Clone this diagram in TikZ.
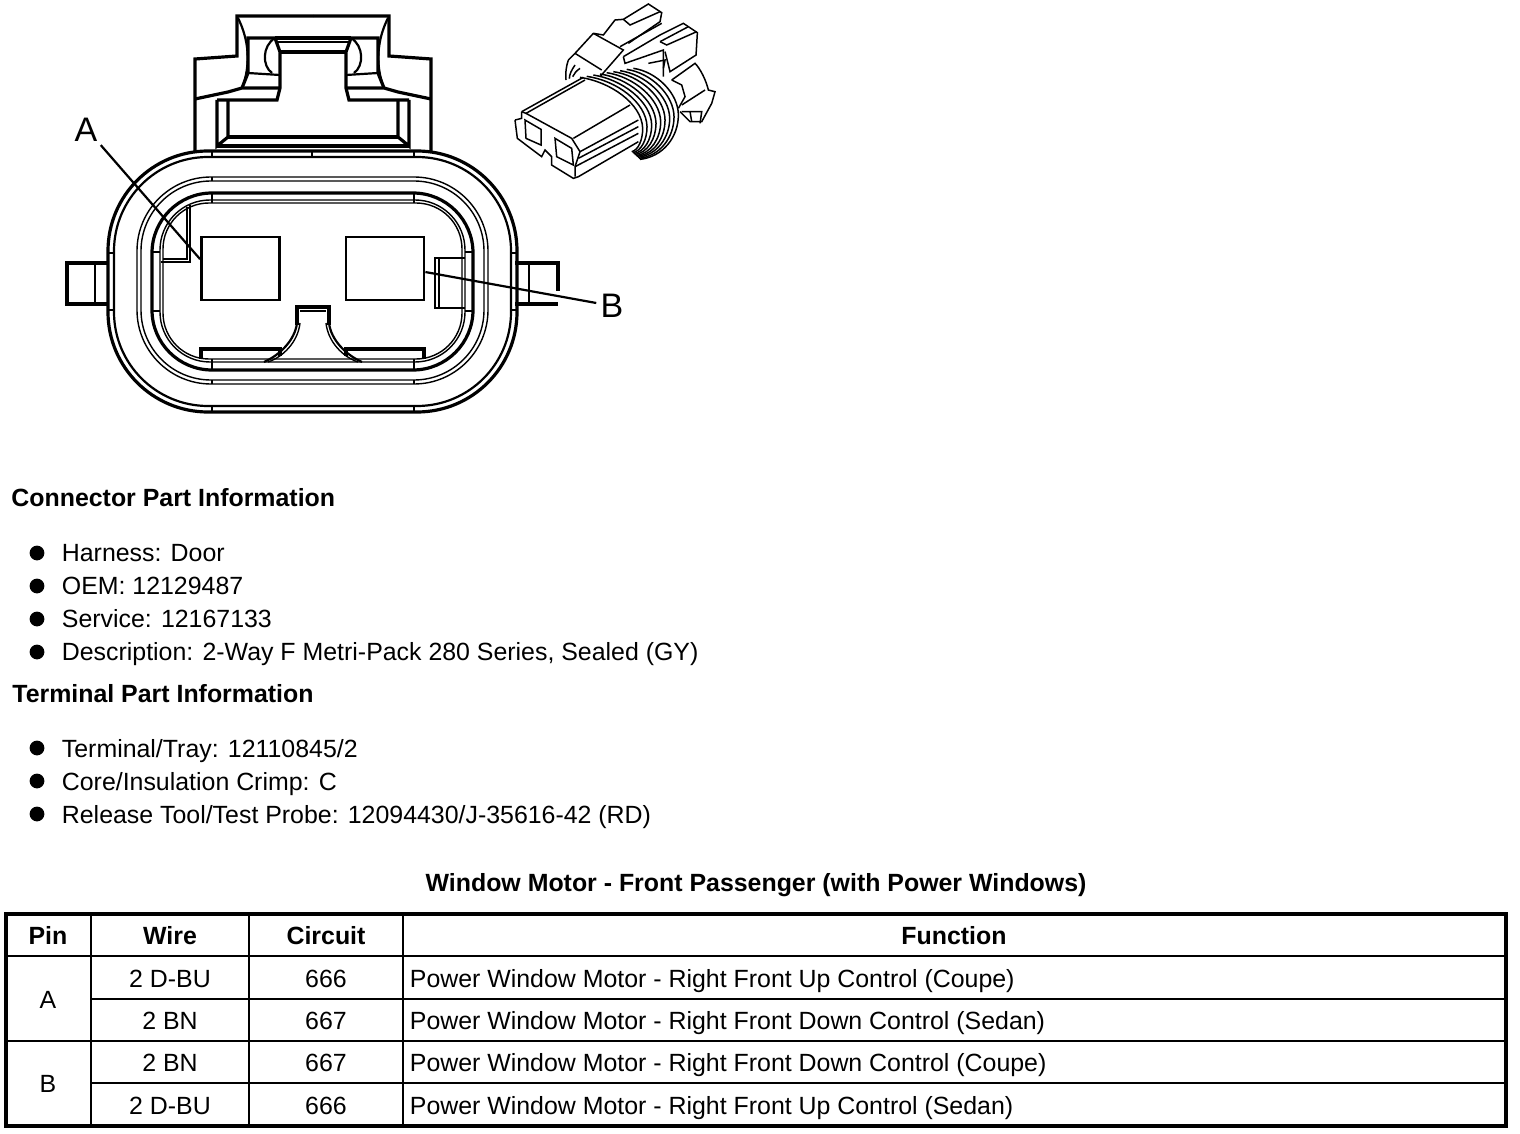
\documentclass[tikz,border=0pt]{standalone}
\usepackage{fontspec}
\setmainfont{Liberation Sans}

\tikzset{
    heavy line/.style={line width=1.6pt},
    mid line/.style={line width=1.1pt},
    thin line/.style={line width=0.7pt},
    body text/.style={anchor=base west, inner sep=0pt, font=\fontsize{12.45}{14}\selectfont},
    head text/.style={anchor=base west, inner sep=0pt, font=\fontsize{12.45}{14}\selectfont\bfseries},
    cell text/.style={anchor=base, inner sep=0pt, font=\fontsize{12.45}{14}\selectfont},
    cell head/.style={anchor=base, inner sep=0pt, font=\fontsize{12.45}{14}\selectfont\bfseries},
    list dot/.style={circle, fill=black, inner sep=0pt, minimum size=7.4pt},
    pin box/.style={rectangle, draw, line width=1.4pt, inner sep=0pt, minimum width=39pt, minimum height=31.5pt},
    call label/.style={inner sep=0pt, font=\fontsize{17}{20}\selectfont}
}

\begin{document}
\begin{tikzpicture}[x=0.5pt,y=-0.5pt,line cap=butt,line join=miter]
    \useasboundingbox (0,0) rectangle (1520,1134);

    % housing outlines
    \draw[heavy line, rounded corners=50pt] (108,151) rectangle (517,412);
    \draw[mid line, rounded corners=47pt] (114,157) rectangle (511,406);
    \draw[thin line, rounded corners=37pt] (137,177) rectangle (488,384);
    \draw[thin line, rounded corners=35pt] (141,181) rectangle (484,380);
    \draw[heavy line, rounded corners=30pt] (152,193) rectangle (473,370);
    \draw[thin line, rounded corners=25pt] (160,200) rectangle (465,362);
    \draw[thin line, rounded corners=23pt] (163,203) rectangle (462,359);

    % ticks across the outlines
    \draw[mid line] (108,253) -- (114,253) (108,310) -- (114,310) (511,253) -- (517,253) (511,310) -- (517,310);
    \draw[mid line] (152,252) -- (160,252) (152,311) -- (160,311) (465,252) -- (473,252) (465,311) -- (473,311);
    \draw[mid line] (212,151) -- (212,157) (312,151) -- (312,157) (414,151) -- (414,157);
    \draw[mid line] (212,177) -- (212,181) (212,193) -- (212,203) (414,193) -- (414,203) (212,359) -- (212,370) (414,359) -- (414,370);
    \draw[mid line] (212,380) -- (212,384) (414,380) -- (414,384) (212,406) -- (212,412) (414,406) -- (414,412);

    % side lugs
    \draw[heavy line] (108,263) -- (67,263) -- (67,304) -- (108,304);
    \draw[mid line] (95,263) -- (95,304);
    \draw[heavy line] (515,263) -- (558,263) -- (558,291);
    \draw[heavy line] (515,304) -- (558,304);
    \draw[mid line] (529,263) -- (529,304);

    % top latch, left half and its mirror
    \draw[heavy line] (313,16) -- (237,16) -- (237,56) -- (195,59) -- (195,151);
    \draw[heavy line] (195,99) -- (228,92) -- (242,88) -- (280,88);
    \draw[mid line] (238,18) .. controls (249,40) and (251,65) .. (242,88);
    \draw[heavy line] (217,100) -- (277,100) -- (280,88) -- (280,52) -- (275,38) -- (248,38) -- (248,73) -- (242,88);
    \draw[mid line] (248,73) -- (280,75);
    \draw[mid line] (275,38) .. controls (262,46) and (262,66) .. (272,73);
    \draw[heavy line] (275,38) -- (313,38) (280,52) -- (313,52);
    \draw[thin line] (277,42) -- (313,42);
    \draw[heavy line] (217,100) -- (217,146) -- (228,137) -- (228,100);
    \draw[heavy line] (228,137) -- (313,137);
    \draw[heavy line] (217,146) -- (313,146);
    \begin{scope}[shift={(626,0)},xscale=-1]
        \draw[heavy line] (313,16) -- (237,16) -- (237,56) -- (195,59) -- (195,151);
        \draw[heavy line] (195,99) -- (228,92) -- (242,88) -- (280,88);
        \draw[mid line] (238,18) .. controls (249,40) and (251,65) .. (242,88);
        \draw[heavy line] (217,100) -- (277,100) -- (280,88) -- (280,52) -- (275,38) -- (248,38) -- (248,73) -- (242,88);
        \draw[mid line] (248,73) -- (280,75);
        \draw[mid line] (275,38) .. controls (262,46) and (262,66) .. (272,73);
        \draw[heavy line] (275,38) -- (313,38) (280,52) -- (313,52);
        \draw[thin line] (277,42) -- (313,42);
        \draw[heavy line] (217,100) -- (217,146) -- (228,137) -- (228,100);
        \draw[heavy line] (228,137) -- (313,137);
        \draw[heavy line] (217,146) -- (313,146);
    \end{scope}

    % inner keys
    \draw[thin line] (187,207) -- (187,259) -- (163,259);
    \draw[thin line] (190,205) -- (190,262) -- (161,262);
    \draw[mid line] (465,258) -- (435,258) -- (435,308) -- (465,308);
    \draw[thin line] (439,258) -- (439,308);
    \draw[heavy line] (297,325) -- (297,307) -- (329,307) -- (329,325);
    \draw[mid line] (297,323) .. controls (295,340) and (280,355) .. (264,362);
    \draw[mid line] (329,323) .. controls (331,340) and (346,355) .. (362,362);
    \draw[thin line] (300,323) .. controls (298,342) and (283,357) .. (268,362);
    \draw[thin line] (326,323) .. controls (328,342) and (343,357) .. (358,362);
    \draw[thin line] (300,311) -- (326,311);
    \draw[heavy line] (201,359) -- (201,349) -- (280,349) -- (280,356);
    \draw[heavy line] (346,356) -- (346,349) -- (424,349) -- (424,359);

    % pin cavities
    \node[pin box] (pinA) at (240.5,268.5) {};
    \node[pin box] (pinB) at (385,268.5) {};
    \node[call label] (lblA) at (86,130) {A};
    \node[call label] (lblB) at (612,306) {B};
    \draw[mid line] (lblA.south east) ++(3,3) -- (pinA.167);
    \draw[mid line] (lblB.west) ++(-4,-3) -- (pinB.-5);

    % small view of the connector, traced at 3x
    \begin{scope}[shift={(500,0)},x=0.1667pt,y=-0.1667pt,line width=0.75pt]
        % front body
        \draw (65,335) -- (250,232);
        \draw (78,340) -- (255,240);
        \draw (78,340) -- (65,335);
        \draw (78,340) -- (215,415) -- (240,455) -- (225,500) -- (225,530);
        \draw (220,415) -- (390,315);
        \draw (45,360) -- (65,355) -- (65,335);
        \draw (45,360) -- (52,415) -- (125,470) -- (135,450) -- (155,470) -- (155,495) -- (220,535) -- (235,530) -- (415,425);
        \draw (75,360) -- (123,388) -- (123,435) -- (78,415) -- cycle;
        \draw (165,415) -- (215,445) -- (220,495) -- (170,470) -- cycle;
        \draw (240,455) -- (415,360);
        \draw (235,475) -- (415,380);
        \draw (225,500) -- (415,400);
        % coil
        \draw (240,232) .. controls (330,245) and (425,310) .. (428,385) .. controls (428,420) and (415,450) .. (395,455);
        \draw (260,229) .. controls (348,241) and (439,306) .. (441,380) .. controls (441,419) and (424,453) .. (398,458);
        \draw (280,225) .. controls (365,238) and (453,303) .. (455,375) .. controls (455,418) and (434,455) .. (401,461);
        \draw (300,222) .. controls (383,234) and (466,299) .. (468,370) .. controls (468,416) and (443,458) .. (404,464);
        \draw (320,218) .. controls (400,230) and (480,295) .. (482,365) .. controls (482,415) and (453,460) .. (408,467);
        \draw (340,215) .. controls (418,226) and (494,291) .. (495,360) .. controls (495,414) and (462,463) .. (411,469);
        \draw (360,212) .. controls (435,223) and (508,288) .. (509,355) .. controls (509,412) and (471,465) .. (414,472);
        \draw (380,208) .. controls (453,219) and (521,284) .. (522,350) .. controls (522,411) and (481,468) .. (417,475);
        \draw (400,205) .. controls (470,215) and (535,280) .. (535,345) .. controls (535,410) and (490,470) .. (420,478);
        % wraps left of the clips
        \draw (205,180) .. controls (198,200) and (196,220) .. (198,240);
        \draw (225,195) .. controls (215,210) and (208,222) .. (208,236);
        \draw (240,205) .. controls (230,212) and (222,220) .. (218,230);
        % clips
        \draw (280,100) -- (225,160) -- (205,180);
        \draw (280,100) -- (370,150) -- (300,230);
        \draw (225,160) -- (305,210);
        \draw (280,100) -- (310,105) -- (345,60) -- (370,58) -- (445,12) -- (485,38) -- (480,65) -- (385,130);
        \draw (370,58) -- (390,75) -- (480,35);
        \draw (360,140) -- (485,70);
        \draw (370,170) -- (375,190) -- (490,150) -- (490,230);
        \draw (370,170) -- (480,105) -- (550,70) -- (592,98) -- (588,165) -- (510,215) -- (495,155);
        \draw (480,125) -- (500,135) -- (590,95);
        \draw (480,125) -- (565,80);
        \draw (445,190) -- (495,180) -- (490,205);
        % rear boot
        \draw (515,240) -- (585,190) .. controls (600,205) and (618,240) .. (625,270) -- (645,275) -- (635,310) -- (605,365) -- (570,365) -- (540,335);
        \draw (515,240) -- (545,255) -- (555,290) -- (535,325);
        \draw (545,315) -- (615,270);
        \draw (545,335) -- (605,335) -- (600,370);
        \draw (570,335) -- (575,365);
    \end{scope}

    % part information
    \node[head text] (connHead) at (11,506) {Connector Part Information};
    \node[list dot] (dotA) at (37,553) {};
    \node[list dot] (dotB) at (37,586) {};
    \node[list dot] (dotC) at (37,619) {};
    \node[list dot] (dotD) at (37,652) {};
    \node[body text] (harness) at (61.5,561) {Harness: Door};
    \node[body text] (oem) at (61.5,594) {OEM: 12129487};
    \node[body text] (service) at (61.5,627) {Service: 12167133};
    \node[body text] (descr) at (61.5,660) {Description: 2-Way F Metri-Pack 280 Series, Sealed (GY)};
    \node[head text] (termHead) at (12,702) {Terminal Part Information};
    \node[list dot] (dotE) at (37,748) {};
    \node[list dot] (dotF) at (37,781) {};
    \node[list dot] (dotG) at (37,814) {};
    \node[body text] (tray) at (61.5,757) {Terminal/Tray: 12110845/2};
    \node[body text] (crimp) at (61.5,790) {Core/Insulation Crimp: C};
    \node[body text] (tool) at (61.5,823) {Release Tool/Test Probe: 12094430/J-35616-42 (RD)};

    % table
    \node[cell head] (title) at (756,891) {Window Motor - Front Passenger (with Power Windows)};
    \draw[line width=2pt] (6,914) rectangle (1506,1126);
    \draw[line width=1.4pt] (6,956) -- (1506,956);
    \draw[line width=1pt] (91,999) -- (1506,999) (6,1041) -- (1506,1041) (91,1083) -- (1506,1083);
    \draw[line width=1pt] (91,914) -- (91,1126) (249,914) -- (249,1126) (403,914) -- (403,1126);

    \node[cell head] (hPin) at (48,944) {Pin};
    \node[cell head] (hWire) at (170,944) {Wire};
    \node[cell head] (hCircuit) at (326,944) {Circuit};
    \node[cell head] (hFunc) at (954,944) {Function};

    \node[cell text] (pA) at (48,1008) {A};
    \node[cell text] (pB) at (48,1092) {B};

    \node[cell text] (w1) at (170,987) {2 D-BU};
    \node[cell text] (c1) at (326,987) {666};
    \node[body text] (f1) at (409.5,987) {Power Window Motor - Right Front Up Control (Coupe)};
    \node[cell text] (w2) at (170,1029) {2 BN};
    \node[cell text] (c2) at (326,1029) {667};
    \node[body text] (f2) at (409.5,1029) {Power Window Motor - Right Front Down Control (Sedan)};
    \node[cell text] (w3) at (170,1071) {2 BN};
    \node[cell text] (c3) at (326,1071) {667};
    \node[body text] (f3) at (409.5,1071) {Power Window Motor - Right Front Down Control (Coupe)};
    \node[cell text] (w4) at (170,1114) {2 D-BU};
    \node[cell text] (c4) at (326,1114) {666};
    \node[body text] (f4) at (409.5,1114) {Power Window Motor - Right Front Up Control (Sedan)};
\end{tikzpicture}
\end{document}
